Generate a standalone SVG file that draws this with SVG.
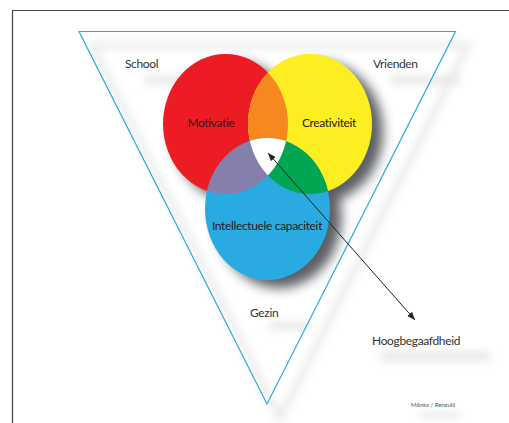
<svg xmlns="http://www.w3.org/2000/svg" width="509" height="423" viewBox="0 0 509 423">
<defs>
<style>
.lbl{font-family:Lato,"Open Sans","Liberation Sans",sans-serif;font-size:12px;letter-spacing:-0.35px;fill:#333}
.in{font-family:Lato,"Open Sans","Liberation Sans",sans-serif;font-size:12px;letter-spacing:-0.35px;fill:#2a1a1a}
</style>
<filter id="blur8" x="-30%" y="-30%" width="160%" height="160%"><feGaussianBlur stdDeviation="6"/></filter>
<filter id="blur4" x="-50%" y="-100%" width="200%" height="300%"><feGaussianBlur stdDeviation="4"/></filter>
<clipPath id="cR"><ellipse cx="225.5" cy="124" rx="62.5" ry="70"/></clipPath>
<clipPath id="cY"><ellipse cx="310" cy="124" rx="62" ry="70"/></clipPath>
<clipPath id="cB"><ellipse cx="267.5" cy="209" rx="62.5" ry="71"/></clipPath>
<marker id="ah" viewBox="0 0 10 10" refX="10" refY="5" markerWidth="8" markerHeight="8" orient="auto-start-reverse"><path d="M0,1 L10,5 L0,9 Z" fill="#222"/></marker>
</defs>
<rect width="509" height="423" fill="#fff"/>
<path d="M12.5,423 V10.5 H509" fill="none" stroke="#444" stroke-width="1.2"/>
<g id="frame-shadows" opacity="0.18" filter="url(#blur4)">
<polygon points="92,45 468,45 280,418" fill="none" stroke="#888" stroke-width="6"/>
<rect x="145" y="76" width="60" height="8" fill="#777"/>
<rect x="390" y="76" width="70" height="8" fill="#777"/>
<rect x="270" y="322" width="40" height="8" fill="#777"/>
<rect x="380" y="352" width="110" height="9" fill="#777"/>
<rect x="420" y="412" width="40" height="6" fill="#777"/>
</g>
<g id="triangle"><polygon points="79,31.5 455.5,31.5 267,404" fill="none" stroke="#29abe2" stroke-width="1.2"/></g>
<g id="venn-shadow" filter="url(#blur8)" fill="#4a4d52" opacity="0.9">
<ellipse cx="236" cy="132" rx="62.5" ry="70"/>
<ellipse cx="321" cy="132" rx="62" ry="70"/>
<ellipse cx="279" cy="217" rx="62.5" ry="71"/>
</g>
<g id="motivatie"><ellipse cx="225.5" cy="124" rx="62.5" ry="70" fill="#ed1c24"/></g>
<g id="creativiteit"><ellipse cx="310" cy="124" rx="62" ry="70" fill="#fcee21"/></g>
<g id="intellectuele-capaciteit"><ellipse cx="267.5" cy="209" rx="62.5" ry="71" fill="#29abe2"/></g>
<g id="overlaps">
<g clip-path="url(#cR)"><ellipse cx="310" cy="124" rx="62" ry="70" fill="#f7871f"/></g>
<g clip-path="url(#cR)"><ellipse cx="267.5" cy="209" rx="62.5" ry="71" fill="#877fab"/></g>
<g clip-path="url(#cY)"><ellipse cx="267.5" cy="209" rx="62.5" ry="71" fill="#00a651"/></g>
<g clip-path="url(#cR)"><g clip-path="url(#cY)"><ellipse cx="267.5" cy="209" rx="62.5" ry="71" fill="#ffffff"/></g></g>
</g>
<g id="connectors"><line x1="268" y1="153" x2="415" y2="320" stroke="#222" stroke-width="1" marker-start="url(#ah)" marker-end="url(#ah)"/></g>
<g id="labels">
<text class="lbl" x="125" y="68">School</text>
<text class="lbl" x="373" y="68">Vrienden</text>
<text class="in" x="211" y="127" text-anchor="middle">Motivatie</text>
<text class="in" x="329" y="127" text-anchor="middle">Creativiteit</text>
<text class="in" x="267" y="230" text-anchor="middle">Intellectuele capaciteit</text>
<text class="lbl" x="250" y="317">Gezin</text>
<text class="lbl" x="372" y="345">Hoogbegaafdheid</text>
<text class="lbl" x="411" y="407" style="font-size:6px;letter-spacing:0;fill:#555">Mönks / Renzulli</text>
</g>
</svg>
